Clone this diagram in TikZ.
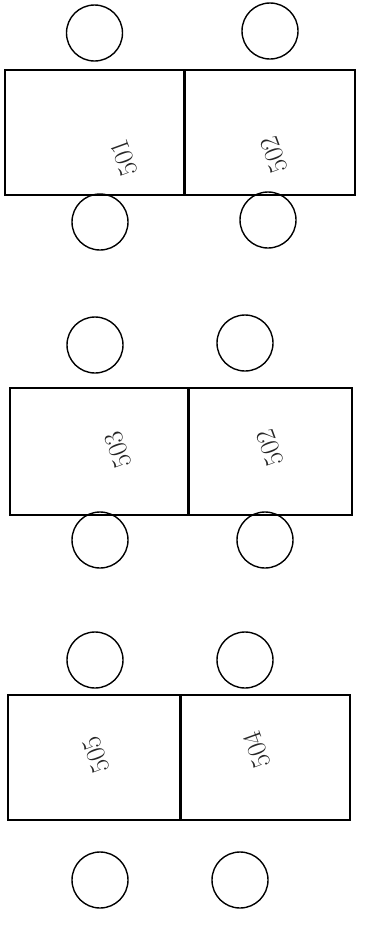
\documentclass[tikz,border=0pt]{standalone}
\usepackage{tikz}
\usetikzlibrary{positioning}

\begin{document}
\begin{tikzpicture}[
x=1pt,y=-1pt,
every node/.style={font=\small},
seat/.style={circle,draw,line width=1.4pt,minimum size=56pt,inner sep=0pt},
desk/.style={draw,line width=1.3pt,minimum height=125pt,inner sep=0pt},
num/.style={font=\fontsize{27}{27}\selectfont,rotate=110,color=black!85}
]
\useasboundingbox (0,0) rectangle (369,927);
% first pair
\node[desk,minimum width=179pt] (d1) at (94.5,132.5) {};
\node[desk,minimum width=171pt] (d2) at (269.5,132.5) {};
\node[seat] (s1a) at (94.5,33) {};
\node[seat] (s2a) at (270,31) {};
\node[seat] (s1b) at (100,222) {};
\node[seat] (s2b) at (268,220) {};
\node[num] (n1) at (124,158) {501};
\node[num] (n2) at (274,155) {502};
% second pair
\node[desk,minimum width=178pt,minimum height=127pt] (d3) at (99,451.5) {};
\node[desk,minimum width=164pt,minimum height=127pt] (d4) at (270,451.5) {};
\node[seat] (s3a) at (95,345) {};
\node[seat] (s4a) at (245,343) {};
\node[seat] (s3b) at (100,540) {};
\node[seat] (s4b) at (265,540) {};
\node[num] (n3) at (118,450) {503};
\node[num] (n4) at (270,448) {502};
% third pair
\node[desk,minimum width=172pt] (d5) at (94,757.5) {};
\node[desk,minimum width=170pt] (d6) at (265,757.5) {};
\node[seat] (s5a) at (95,660) {};
\node[seat] (s6a) at (245,660) {};
\node[seat] (s5b) at (100,880) {};
\node[seat] (s6b) at (240,880) {};
\node[num] (n5) at (96,755) {505};
\node[num] (n6) at (257,750) {504};
% thick dividers
\draw[line width=2.2pt] (d1.north east) -- (d1.south east);
\draw[line width=2.2pt] (d3.north east) -- (d3.south east);
\draw[line width=2.2pt] (d5.north east) -- (d5.south east);
\end{tikzpicture}
\end{document}
